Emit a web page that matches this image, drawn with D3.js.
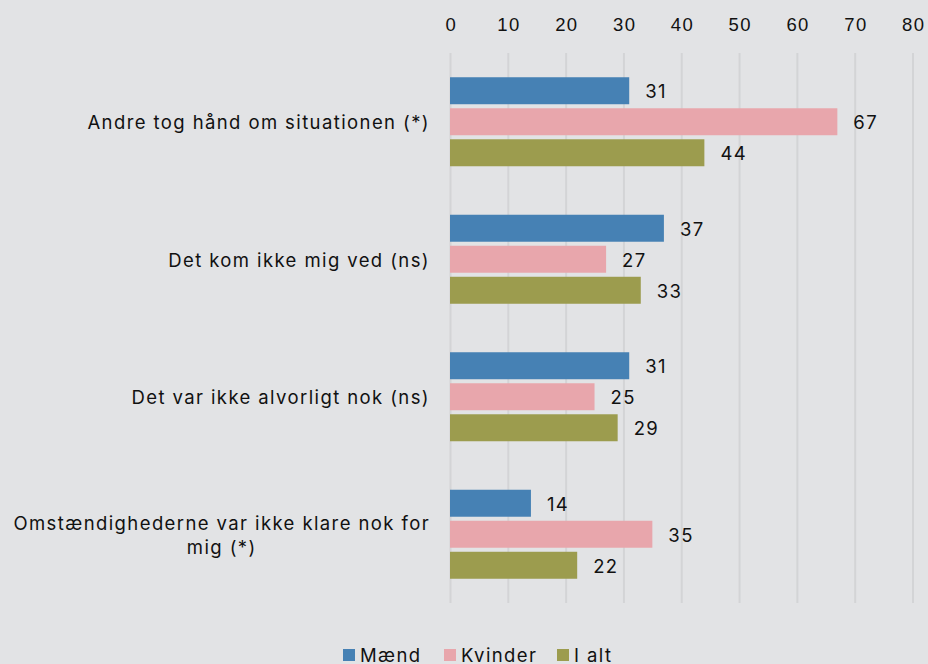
<!DOCTYPE html>
<html>
<head>
<meta charset="utf-8">
<script src="https://cdn.jsdelivr.net/npm/d3@7"></script>
<style>
  body { margin: 0; background: #e2e3e5; }
  svg { display: block; font-family: Inter, "Noto Sans", sans-serif; letter-spacing: 1.4px; }
  .grid line { stroke: #d3d4d6; stroke-width: 2; }
  .grid .domain { display: none; }
  .tick text { font-size: 18.5px; fill: #111; }
</style>
</head>
<body>
<svg width="928" height="664"></svg>
<script>
// Data
const categories = [
  ["Andre tog hånd om situationen (*)"],
  ["Det kom ikke mig ved (ns)"],
  ["Det var ikke alvorligt nok (ns)"],
  ["Omstændighederne var ikke klare nok for", "mig (*)"]
];
const series = ["Mænd", "Kvinder", "I alt"];
const maend = [31, 37, 31, 14];
const kvinder = [67, 27, 25, 35];
const ialt = [44, 33, 29, 22];
const tickValues = [0, 10, 20, 30, 40, 50, 60, 70, 80];
const colors = ["#4681b4", "#e8a6ac", "#9c9c4e"];

const values = [maend, kvinder, ialt];

const svg = d3.select("svg");
const plotLeft = 450, plotRight = 912.5, plotTop = 53, plotBottom = 603;
const fontSize = 18.5;

const x = d3.scaleLinear().domain([0, 80]).range([plotLeft, plotRight]);
const y = d3.scaleBand().domain(d3.range(categories.length)).range([plotTop, plotBottom]);
const yInner = d3.scaleBand().domain(d3.range(series.length))
  .range([y.bandwidth() / 2 - 44.5, y.bandwidth() / 2 + 44.5]).paddingInner(0.13);

// gridlines
svg.append("g")
  .attr("class", "grid")
  .attr("transform", `translate(0, ${plotTop})`)
  .call(d3.axisBottom(x).tickValues(tickValues).tickSize(plotBottom - plotTop).tickFormat(""));

// top axis labels
const axisTop = svg.append("g")
  .attr("transform", "translate(0, 25)")
  .call(d3.axisTop(x).tickValues(tickValues).tickSize(0).tickPadding(0));
axisTop.select(".domain").remove();
axisTop.selectAll("text").attr("dy", "0.35em").attr("dx", "0.04em");

// bars
const groups = svg.selectAll(".group")
  .data(categories)
  .enter()
  .append("g")
  .attr("transform", (d, i) => `translate(0, ${y(i)})`);

series.forEach((s, si) => {
  groups.append("rect")
    .attr("x", x(0))
    .attr("y", yInner(si))
    .attr("width", (d, i) => x(values[si][i]) - x(0))
    .attr("height", yInner.bandwidth())
    .attr("fill", colors[si]);

  groups.append("text")
    .attr("x", (d, i) => x(values[si][i]) + 16)
    .attr("y", yInner(si) + yInner.bandwidth() / 2 + 1)
    .attr("dy", "0.36em")
    .attr("font-size", fontSize)
    .attr("fill", "#111")
    .text((d, i) => values[si][i]);
});

// category labels
groups.each(function (lines) {
  const g = d3.select(this);
  const lh = 24;
  const t = g.append("text")
    .attr("font-size", fontSize)
    .attr("fill", "#111");
  lines.forEach((ln, li) => {
    t.append("tspan")
      .attr("y", y.bandwidth() / 2 + 1 + (li - (lines.length - 1) / 2) * lh)
      .attr("dy", "0.36em")
      .text(ln);
  });
  let maxW = 0;
  t.selectAll("tspan").each(function () { maxW = Math.max(maxW, this.getComputedTextLength()); });
  t.attr("text-anchor", "middle");
  t.selectAll("tspan").attr("x", 430 - maxW / 2);
});

// legend
const legendX = [343, 444, 557];
const legend = svg.selectAll(".legend")
  .data(series)
  .enter()
  .append("g")
  .attr("transform", (d, i) => `translate(${legendX[i]}, 649)`);
legend.append("rect")
  .attr("width", 12)
  .attr("height", 12)
  .attr("fill", (d, i) => colors[i]);
legend.append("text")
  .attr("x", 17)
  .attr("y", 6)
  .attr("dy", "0.36em")
  .attr("font-size", fontSize)
  .attr("fill", "#111")
  .text(d => d);
</script>
</body>
</html>
